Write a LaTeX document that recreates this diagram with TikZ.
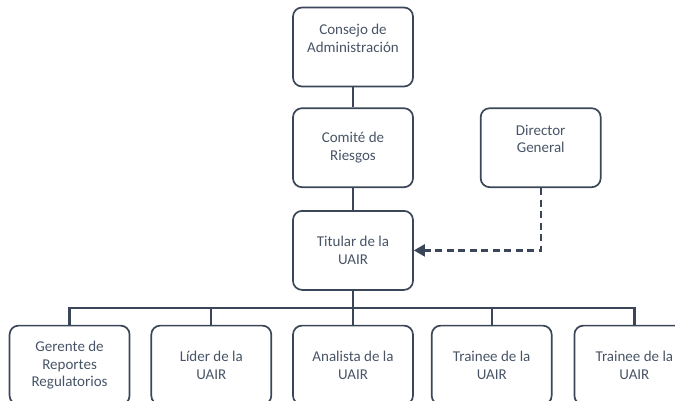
\documentclass[tikz,border=0pt]{standalone}
\usepackage{fontspec}
\setmainfont{Carlito}
\usepackage{tikz}
\usetikzlibrary{positioning,arrows.meta}

\definecolor{boxline}{RGB}{59,70,88}
\definecolor{boxtext}{RGB}{72,84,102}

% text sits a little above the middle of the box
\newcommand{\uplines}[1]{\raisebox{0pt}[\height][\dimexpr\depth+14pt\relax]{\begin{tabular}{@{}c@{}}#1\end{tabular}}}

\tikzset{
  unit/.style={draw=boxline, line width=1.7pt, rounded corners=9pt,
    minimum width=120pt, minimum height=79pt, align=center,
    text=boxtext, font=\fontsize{15}{17.5}\selectfont},
  link/.style={draw=boxline, line width=2.2pt},
  dotted link/.style={draw=boxline, line width=2.2pt, dash pattern=on 7pt off 4.5pt,
    -{Triangle[length=11pt,width=12pt]}}
}

\begin{document}
\begin{tikzpicture}
      \clip (-353pt,47pt) rectangle (322pt,-353pt);
        \node[unit] (c1) {\uplines{Consejo de\\Administración}};

        \node[unit, below=20pt of c1] (r1) {Comité de\\Riesgos};
        \node[unit, right=66pt of r1] (d1) {\uplines{Director\\General}};
        \node[unit, below=22pt of r1] (t1) {Titular de la\\UAIR};

        \node[unit, below=34pt of t1] (s3) {Analista de la\\UAIR};
        \node[unit, left=20pt of s3] (s2) {Líder de la\\UAIR};
        \node[unit, left=20pt of s2] (s1) {Gerente de\\Reportes\\Regulatorios};
        \node[unit, right=17pt of s3] (s4) {Trainee de la\\UAIR};
        \node[unit, right=21pt of s4] (s5) {Trainee de la\\UAIR};

        \draw[link] (c1) -- (r1);
        \draw[link] (r1) -- (t1);
        \foreach \s in {s1,s2,s3,s4,s5}
          \draw[link] (t1.south) -- ++(0,-17pt) -| (\s.north);
        \draw[dotted link] (d1.south) |- (t1.east);
    \end{tikzpicture}
\end{document}
